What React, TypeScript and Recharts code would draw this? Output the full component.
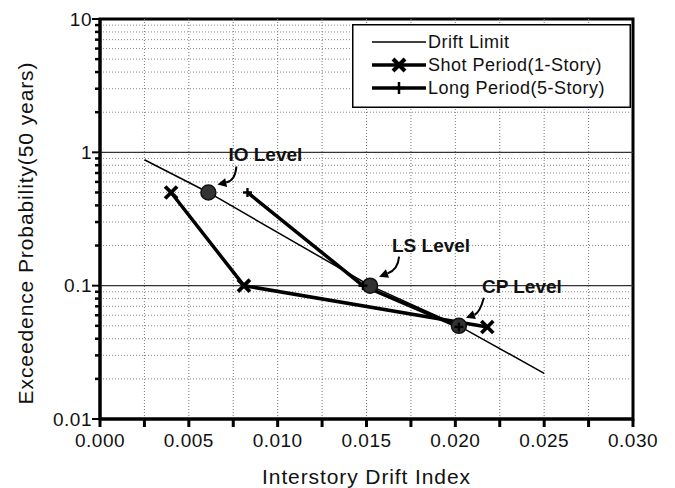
import React from 'react';
import { ComposedChart, Line, Scatter, XAxis, YAxis, ReferenceLine, ReferenceArea, Legend } from 'recharts';

const FONT = '"Liberation Sans", Arial, Helvetica, sans-serif';

// axis ticks
const xTicks = [0, 0.0025, 0.005, 0.0075, 0.01, 0.0125, 0.015, 0.0175, 0.02, 0.0225, 0.025, 0.0275, 0.03];
const yTicks = [
  0.01, 0.02, 0.03, 0.04, 0.05, 0.06, 0.07, 0.08, 0.09,
  0.1, 0.2, 0.3, 0.4, 0.5, 0.6, 0.7, 0.8, 0.9,
  1, 2, 3, 4, 5, 6, 7, 8, 9, 10,
];
const yDecades = [0.01, 0.1, 1, 10];

// series
const driftX = [0.0025, 0.0061, 0.0152, 0.0202, 0.025];
const driftY = [0.88, 0.5, 0.1, 0.05, 0.022];

const shortX = [0.004, 0.0081, 0.0218];
const shortY = [0.5, 0.1, 0.049];

const longX = [0.0083, 0.0148, 0.0202];
const longY = [0.5, 0.1, 0.049];

const levelNames = ['IO Level', 'LS Level', 'CP Level'];
const levelX = [0.0061, 0.0152, 0.0202];
const levelY = [0.5, 0.1, 0.05];

const legendLabels = ['Drift Limit', 'Shot Period(1-Story)', 'Long Period(5-Story)'];

const zip = (xs: number[], ys: number[]) => xs.map((x, i) => ({ x, y: ys[i] }));
const driftData = zip(driftX, driftY);
const shortData = zip(shortX, shortY);
const longData = zip(longX, longY);
const levelData = levelX.map((x, i) => ({ x, y: levelY[i], name: levelNames[i] }));

const isDecade = (v: number) => yDecades.some((d) => Math.abs(d - v) < 1e-12);
const minorY = yTicks.filter((v) => !isDecade(v));

// label / arrow offsets from each level point (px)
const annot: Record<string, { lx: number; ly: number; sx: number; sy: number; qx: number; qy: number; tx: number; ty: number }> = {
  'IO Level': { lx: 57, ly: -38, sx: 28, sy: -26, qx: 27, qy: -12, tx: 9, ty: -8 },
  'LS Level': { lx: 61, ly: -40, sx: 29, sy: -29, qx: 28, qy: -16, tx: 9, ty: -9 },
  'CP Level': { lx: 63, ly: -39, sx: 25, sy: -28, qx: 21, qy: -13, tx: 7, ty: -8 },
};

const XMark = ({ cx, cy, s = 6, w = 3.8 }: any) => (
  <g>
    <line x1={cx - s} y1={cy - s} x2={cx + s} y2={cy + s} stroke="#000" strokeWidth={w} />
    <line x1={cx - s} y1={cy + s} x2={cx + s} y2={cy - s} stroke="#000" strokeWidth={w} />
  </g>
);

const PlusMark = ({ cx, cy, s = 4.5, w = 2.4 }: any) => (
  <g>
    <line x1={cx - s} y1={cy} x2={cx + s} y2={cy} stroke="#000" strokeWidth={w} />
    <line x1={cx} y1={cy - s} x2={cx} y2={cy + s} stroke="#000" strokeWidth={w} />
  </g>
);

const XTick = (props: any) => {
  const { x, y, payload, index } = props;
  const major = index % 2 === 0;
  return (
    <g>
      <line x1={x} y1={y} x2={x} y2={y + 8} stroke="#000" strokeWidth={3} />
      {major && (
        <text x={x} y={y + 21} textAnchor="middle" dominantBaseline="central" fontSize={19} letterSpacing={0.5} fontFamily={FONT} fill="#111">
          {payload.value.toFixed(3)}
        </text>
      )}
    </g>
  );
};

const YTick = (props: any) => {
  const { x, y, payload } = props;
  const major = isDecade(payload.value);
  return (
    <g>
      <line x1={x - (major ? 8 : 5)} y1={y} x2={x} y2={y} stroke="#000" strokeWidth={major ? 2 : 2.5} />
      {major && (
        <text x={x - 8} y={y} textAnchor="end" dominantBaseline="central" fontSize={19} letterSpacing={0.5} fontFamily={FONT} fill="#111">
          {String(payload.value)}
        </text>
      )}
    </g>
  );
};

const XTitle = (props: any) => {
  const { viewBox } = props;
  return (
    <text x={viewBox.x + viewBox.width / 2} y={476} textAnchor="middle" dominantBaseline="central" fontSize={21} letterSpacing={0.9} fontFamily={FONT} fill="#111">
      Interstory Drift Index
    </text>
  );
};

const YTitle = (props: any) => {
  const { viewBox } = props;
  const cx = 25;
  const cy = viewBox.y + viewBox.height / 2 + 14;
  return (
    <text x={cx} y={cy} transform={`rotate(-90 ${cx} ${cy})`} textAnchor="middle" dominantBaseline="central" fontSize={21} letterSpacing={0.9} fontFamily={FONT} fill="#111">
      Exceedence Probability(50 years)
    </text>
  );
};

const LevelShape = (props: any) => {
  const { cx, cy, payload } = props;
  const a = annot[payload.name];
  const sx = cx + a.sx, sy = cy + a.sy;
  const qx = cx + a.qx, qy = cy + a.qy;
  const tx = cx + a.tx, ty = cy + a.ty;
  // arrowhead aligned with the curve's end tangent
  const dx = tx - qx, dy = ty - qy;
  const len = Math.hypot(dx, dy) || 1;
  const ux = dx / len, uy = dy / len;
  const hl = 9, hw = 4.5;
  const bx = tx - ux * hl, by = ty - uy * hl;
  const head = `${tx},${ty} ${bx - uy * hw},${by + ux * hw} ${bx + uy * hw},${by - ux * hw}`;
  return (
    <g>
      <circle cx={cx} cy={cy} r={7.5} fill="#333" stroke="#111" strokeWidth={1.5} />
      <path d={`M${sx},${sy} Q${qx},${qy} ${bx},${by}`} fill="none" stroke="#000" strokeWidth={2} />
      <polygon points={head} fill="#000" />
      <text x={cx + a.lx} y={cy + a.ly} textAnchor="middle" dominantBaseline="central" fontSize={19} fontWeight="bold" fontFamily={FONT} fill="#111">
        {payload.name}
      </text>
    </g>
  );
};

const LegendBox = () => {
  const rows = [18, 41, 64];
  return (
    <svg width={279} height={84}>
      <rect x={0.75} y={0.75} width={277.5} height={82.5} fill="#fff" stroke="#000" strokeWidth={1.5} />
      {legendLabels.map((lab, i) => (
        <g key={lab}>
          <line x1={20} y1={rows[i]} x2={74} y2={rows[i]} stroke="#000" strokeWidth={i === 0 ? 1.5 : 3.5} />
          {i === 1 && <XMark cx={47} cy={rows[i]} s={6} w={4} />}
          {i === 2 && <PlusMark cx={47} cy={rows[i]} s={6} w={2.5} />}
          <text x={76} y={rows[i]} dominantBaseline="central" fontSize={18} letterSpacing={0.5} fontFamily={FONT} fill="#111">
            {lab}
          </text>
        </g>
      ))}
    </svg>
  );
};

export default function App() {
  return (
    <div style={{ position: 'absolute', left: 0, top: 0, width: 675, height: 488, background: '#fff' }}>
      <ComposedChart width={675} height={488} margin={{ top: 19, right: 42, bottom: 0, left: 0 }}>
        <XAxis
          dataKey="x"
          type="number"
          domain={[0, 0.03]}
          ticks={xTicks}
          interval={0}
          tick={<XTick />}
          tickSize={0}
          tickMargin={0}
          tickLine={false}
          axisLine={{ stroke: '#000', strokeWidth: 3 }}
          height={69}
          allowDataOverflow
          label={<XTitle />}
        />
        <YAxis
          dataKey="y"
          type="number"
          scale="log"
          domain={[0.01, 10]}
          ticks={yTicks}
          interval={0}
          tick={<YTick />}
          tickSize={0}
          tickMargin={0}
          tickLine={false}
          axisLine={{ stroke: '#000', strokeWidth: 3 }}
          width={100}
          allowDataOverflow
          label={<YTitle />}
        />
        {xTicks.slice(1, -1).map((v) => (
          <ReferenceLine key={`vx${v}`} x={v} stroke="#777" strokeWidth={1} strokeDasharray="1 2" />
        ))}
        {minorY.map((v) => (
          <ReferenceLine key={`hy${v}`} y={v} stroke="#888" strokeWidth={1} strokeDasharray="1 2" />
        ))}
        {[0.1, 1].map((v) => (
          <ReferenceLine key={`dy${v}`} y={v} stroke="#333" strokeWidth={1.3} />
        ))}
        <ReferenceArea x1={0} x2={0.03} y1={0.01} y2={10} fill="none" stroke="#000" strokeWidth={3} />
        <Line
          data={driftData}
          dataKey="y"
          name={legendLabels[0]}
          type="linear"
          stroke="#000"
          strokeWidth={1.5}
          dot={false}
          activeDot={false}
          isAnimationActive={false}
        />
        <Line
          data={shortData}
          dataKey="y"
          name={legendLabels[1]}
          type="linear"
          stroke="#000"
          strokeWidth={3.5}
          dot={(p: any) => <XMark key={`s${p.index}`} cx={p.cx} cy={p.cy} />}
          activeDot={false}
          isAnimationActive={false}
        />
        <Line
          data={longData}
          dataKey="y"
          name={legendLabels[2]}
          type="linear"
          stroke="#000"
          strokeWidth={3.5}
          dot={(p: any) => <PlusMark key={`l${p.index}`} cx={p.cx} cy={p.cy} />}
          activeDot={false}
          isAnimationActive={false}
        />
        <Scatter data={levelData} dataKey="y" shape={<LevelShape />} isAnimationActive={false} legendType="none" />
        <Legend
          layout="vertical"
          align="center"
          verticalAlign="middle"
          content={<LegendBox />}
          wrapperStyle={{ position: 'absolute', left: 352, top: 24, width: 279, height: 84 }}
        />
      </ComposedChart>
    </div>
  );
}
